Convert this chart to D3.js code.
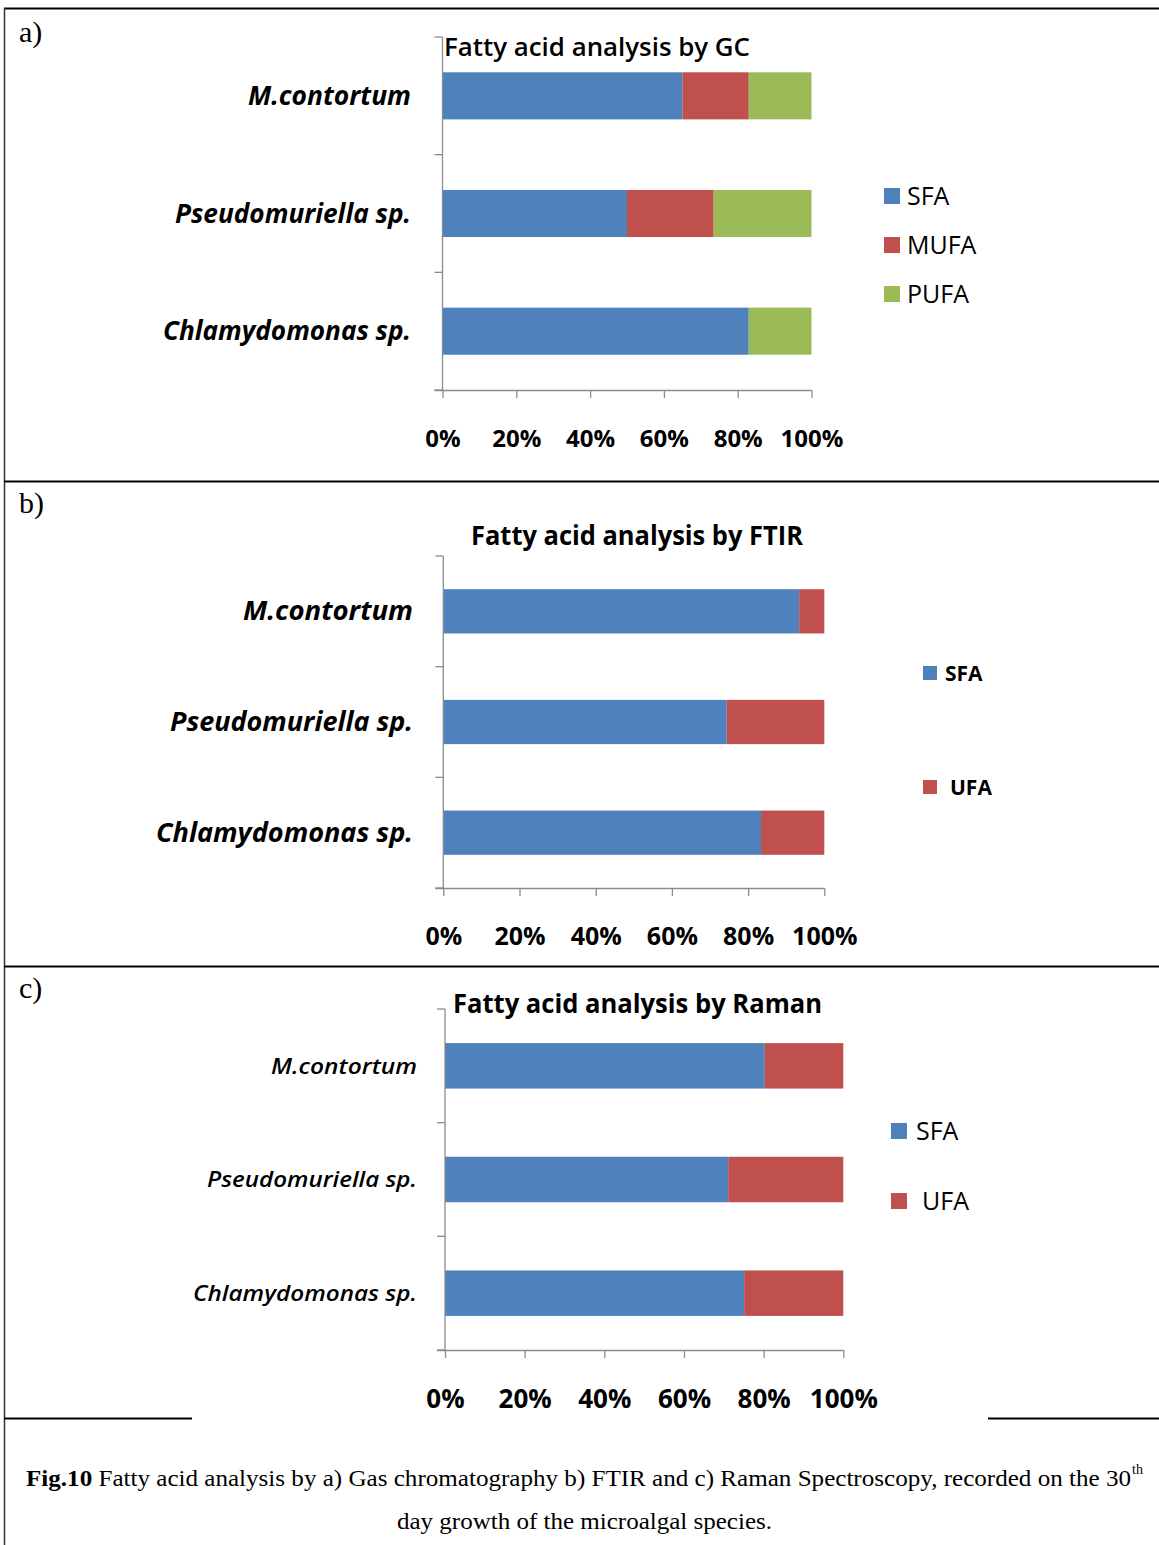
<!DOCTYPE html>
<html>
<head>
<meta charset="utf-8">
<script src="https://cdn.jsdelivr.net/npm/d3@7"></script>
<style>
  html, body { margin: 0; padding: 0; background: #fff; }
  svg { display: block; }
</style>
</head>
<body>
<svg id="fig" width="1159" height="1545"></svg>
<script>
// Species (shared by all three panels)
const categories = ["M.contortum", "Pseudomuriella sp.", "Chlamydomonas sp."];

// a) Gas chromatography: SFA / MUFA / PUFA (%)
const gcSeries = ["SFA", "MUFA", "PUFA"];
const gcSFA  = [65, 50, 83];
const gcMUFA = [18, 23.5, 0];
const gcPUFA = [17, 26.5, 17];

// b) FTIR: SFA / UFA (%)
const ftirSeries = ["SFA", "UFA"];
const ftirSFA = [93.4, 74.4, 83.4];
const ftirUFA = [6.6, 25.6, 16.6];

// c) Raman: SFA / UFA (%)
const ramanSeries = ["SFA", "UFA"];
const ramanSFA = [80.3, 71.1, 75.1];
const ramanUFA = [19.7, 28.9, 24.9];

// x-axis ticks
const tickValues = [0, 20, 40, 60, 80, 100];
const tickLabels = ["0%", "20%", "40%", "60%", "80%", "100%"];

const colors = { SFA: "#4F81BD", MUFA: "#C0504D", UFA: "#C0504D", PUFA: "#9BBB59" };

const svg = d3.select("#fig");
const sans = "'Open Sans', Lato, sans-serif";
const serif = "'Liberation Serif', 'Times New Roman', serif";

// Outer frame and panel separators
const frame = svg.append("g").attr("stroke", "#000").attr("fill", "none");
frame.append("line").attr("x1", 4).attr("x2", 1159).attr("y1", 8.5).attr("y2", 8.5).attr("stroke-width", 2);
frame.append("line").attr("x1", 4.5).attr("x2", 4.5).attr("y1", 8).attr("y2", 1545).attr("stroke-width", 1.5).attr("stroke", "#333");
frame.append("line").attr("x1", 4).attr("x2", 1159).attr("y1", 481.5).attr("y2", 481.5).attr("stroke-width", 2);
frame.append("line").attr("x1", 4).attr("x2", 1159).attr("y1", 966.5).attr("y2", 966.5).attr("stroke-width", 2);
frame.append("line").attr("x1", 4).attr("x2", 192).attr("y1", 1418.5).attr("y2", 1418.5).attr("stroke-width", 2);
frame.append("line").attr("x1", 988).attr("x2", 1159).attr("y1", 1418.5).attr("y2", 1418.5).attr("stroke-width", 2);

function buildRows(seriesNames, arrays) {
  return categories.map((c, i) => {
    const row = { category: c };
    seriesNames.forEach((s, k) => { row[s] = arrays[k][i]; });
    return row;
  });
}

function drawPanel(cfg) {
  const g = svg.append("g");

  // panel letter
  g.append("text").attr("x", 19).attr("y", cfg.letterY)
    .attr("font-family", serif).attr("font-size", 30).text(cfg.letter);

  const x = d3.scaleLinear().domain([0, 100]).range([cfg.x0, cfg.x1]);
  const y = d3.scaleBand().domain(categories).range([cfg.top, cfg.bottom]).padding(0);
  const barH = y.bandwidth() * 0.4;

  const rows = buildRows(cfg.series, cfg.values);
  const stacked = d3.stack().keys(cfg.series)(rows);

  // stacked bars
  g.append("g").selectAll("g").data(stacked).join("g")
    .attr("fill", d => colors[d.key])
    .selectAll("rect").data(d => d).join("rect")
    .attr("x", d => x(d[0]))
    .attr("width", d => Math.max(0, x(d[1]) - x(d[0])))
    .attr("y", d => y(d.data.category) + (y.bandwidth() - barH) / 2)
    .attr("height", barH);

  // vertical category axis with ticks at band boundaries
  const axisCol = "#8c8c8c";
  g.append("line").attr("x1", cfg.x0).attr("x2", cfg.x0)
    .attr("y1", cfg.top).attr("y2", cfg.bottom)
    .attr("stroke", axisCol).attr("stroke-width", 1.3);
  const bounds = categories.map(c => y(c)).concat([cfg.bottom]);
  g.selectAll(".ytick").data(bounds).join("line")
    .attr("x1", cfg.x0 - 8).attr("x2", cfg.x0)
    .attr("y1", d => d).attr("y2", d => d)
    .attr("stroke", axisCol).attr("stroke-width", 1.3);

  // horizontal percentage axis
  const xAxis = d3.axisBottom(x).tickValues(tickValues)
    .tickFormat((d, i) => tickLabels[i]).tickSize(8).tickPadding(cfg.tickPad);
  const ax = g.append("g").attr("transform", `translate(0,${cfg.bottom})`).call(xAxis);
  ax.select(".domain").attr("stroke", axisCol).attr("stroke-width", 1.3)
    .attr("d", `M${cfg.x0 - 8},0.5H${cfg.x1}`);
  ax.selectAll(".tick line").attr("stroke", axisCol).attr("stroke-width", 1.3);
  ax.selectAll(".tick text").attr("fill", "#000")
    .attr("font-family", sans).attr("font-weight", 700)
    .attr("font-size", cfg.tickFont);

  // category labels
  g.selectAll(".cat").data(categories).join("text")
    .attr("x", cfg.labelRight)
    .attr("y", c => y(c) + y.bandwidth() / 2)
    .attr("dy", "0.35em")
    .attr("text-anchor", "end")
    .attr("font-family", sans).attr("font-style", "italic")
    .attr("font-weight", cfg.labelWeight).attr("font-size", cfg.labelFont)
    .attr("textLength", (c, i) => cfg.labelWidths[i])
    .attr("lengthAdjust", "spacingAndGlyphs")
    .text(c => c);

  // title
  g.append("text").attr("x", cfg.titleX).attr("y", cfg.titleY)
    .attr("dy", "0.35em")
    .attr("font-family", sans).attr("font-weight", cfg.titleWeight)
    .attr("font-size", cfg.titleFont)
    .attr("textLength", cfg.titleWidth).attr("lengthAdjust", "spacingAndGlyphs")
    .text(cfg.title);

  // legend
  const lg = g.append("g");
  cfg.series.forEach((s, i) => {
    const ly = cfg.legendY[i];
    lg.append("rect").attr("x", cfg.legendX).attr("y", ly - cfg.sw / 2)
      .attr("width", cfg.sw).attr("height", cfg.sw).attr("fill", colors[s]);
    lg.append("text").attr("x", cfg.legendTextX[i]).attr("y", ly).attr("dy", "0.36em")
      .attr("font-family", sans).attr("font-weight", cfg.legendWeight)
      .attr("font-size", cfg.legendFont).text(s);
  });
}

drawPanel({
  letter: "a)", letterY: 42,
  series: gcSeries, values: [gcSFA, gcMUFA, gcPUFA],
  x0: 442.5, x1: 811.5, top: 37, bottom: 390,
  tickPad: 32, tickFont: 24,
  labelRight: 411, labelFont: 26, labelWeight: 700, labelWidths: [163, 236, 248],
  title: "Fatty acid analysis by GC", titleX: 444, titleY: 47, titleWidth: 306,
  titleFont: 26, titleWeight: 600,
  legendX: 884, sw: 16, legendY: [196, 245, 294], legendTextX: [907, 907, 907],
  legendFont: 25, legendWeight: 400
});

drawPanel({
  letter: "b)", letterY: 513,
  series: ftirSeries, values: [ftirSFA, ftirUFA],
  x0: 443.3, x1: 824.3, top: 556, bottom: 888,
  tickPad: 31, tickFont: 25,
  labelRight: 413, labelFont: 26, labelWeight: 700, labelWidths: [170, 243, 257],
  title: "Fatty acid analysis by FTIR", titleX: 471, titleY: 536, titleWidth: 332,
  titleFont: 26, titleWeight: 700,
  legendX: 923, sw: 14, legendY: [673, 787], legendTextX: [945, 950],
  legendFont: 21, legendWeight: 700
});

drawPanel({
  letter: "c)", letterY: 998,
  series: ramanSeries, values: [ramanSFA, ramanUFA],
  x0: 445, x1: 843.3, top: 1009, bottom: 1350,
  tickPad: 32, tickFont: 26,
  labelRight: 417, labelFont: 22, labelWeight: 600, labelWidths: [146, 210, 224],
  title: "Fatty acid analysis by Raman", titleX: 453, titleY: 1004, titleWidth: 369,
  titleFont: 27, titleWeight: 700,
  legendX: 891, sw: 16, legendY: [1131, 1201], legendTextX: [916, 922],
  legendFont: 25, legendWeight: 400
});

// Caption
const cap = svg.append("g").attr("font-family", serif).attr("font-size", 24).attr("fill", "#000");
const line1 = cap.append("text").attr("x", 26).attr("y", 1486)
  .attr("textLength", 1105).attr("lengthAdjust", "spacingAndGlyphs");
line1.append("tspan").attr("font-weight", 700).text("Fig.10");
line1.append("tspan").text(" Fatty acid analysis by a) Gas chromatography b) FTIR and c) Raman Spectroscopy, recorded on the 30");
cap.append("text").attr("x", 1132).attr("y", 1474).attr("font-size", 14).text("th");
cap.append("text").attr("x", 397).attr("y", 1529)
  .attr("textLength", 375).attr("lengthAdjust", "spacingAndGlyphs")
  .text("day growth of the microalgal species.");
</script>
</body>
</html>
